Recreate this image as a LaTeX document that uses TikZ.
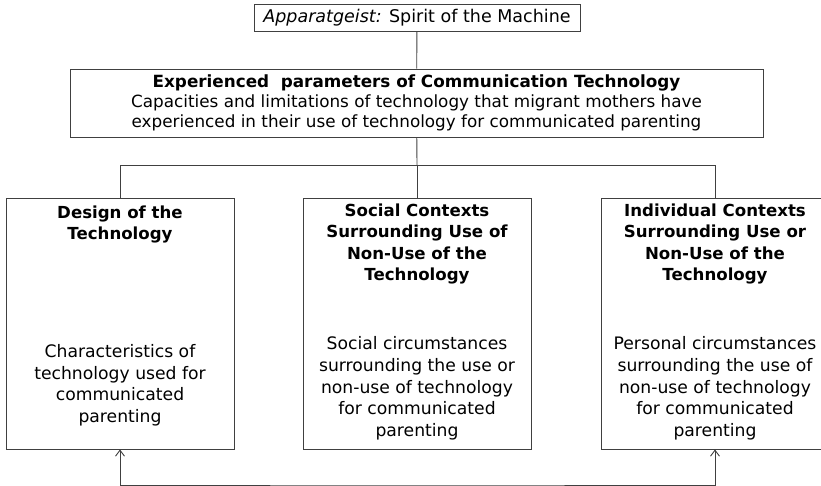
\documentclass[tikz,border=0pt]{standalone}
\usepackage{fontspec}
\setmainfont{DejaVu Sans}
\usetikzlibrary{positioning,arrows.meta}

\begin{document}
\begin{tikzpicture}[
    x=1pt, y=-1pt,
    font=\fontsize{16.8}{20}\selectfont,
    box/.style={draw=black!75, line width=0.9pt, inner sep=0pt},
    part/.style={box, minimum width=228pt, minimum height=251pt},
    head/.style={align=center, font=\fontsize{16.6}{21.5}\selectfont\bfseries, anchor=north, inner sep=0pt},
    desc/.style={align=center, font=\fontsize{17.2}{21.8}\selectfont, anchor=south, inner sep=0pt},
    link/.style={draw=black!75, line width=0.9pt},
    >={Straight Barb[length=6pt, width=9pt]}
]
\useasboundingbox (0,0) rectangle (821,486);

% Spirit of the machine on top
\node[box, minimum width=326pt, minimum height=27pt, font=\fontsize{17.5}{18}\selectfont] (spirit) at (417,17.5)
    {\textit{Apparatgeist:} Spirit of the Machine};

% Experienced parameters
\node[box, minimum width=693pt, minimum height=68pt, align=center] (params) at (416.5,103)
    {\textbf{Experienced\ \ parameters of Communication Technology}\\
     Capacities and limitations of technology that migrant mothers have\\
     experienced in their use of technology for communicated parenting};

% The three contexts
\node[part] (design) at (120,323.5) {};
\node[part] (social) at (417,323.5) {};
\node[part] (indiv) at (715,323.5) {};

\node[head, below=8pt of design.north] (designhead) {Design of the\\Technology};
\node[head, below=6pt of social.north] (socialhead) {Social Contexts\\Surrounding Use of\\Non-Use of the\\Technology};
\node[head, below=6pt of indiv.north] (indivhead) {Individual Contexts\\Surrounding Use or\\Non-Use of the\\Technology};

\node[desc, above=23pt of design.south] (designdesc) {Characteristics of\\technology used for\\communicated\\parenting};
\node[desc, above=9pt of social.south] (socialdesc) {Social circumstances\\surrounding the use or\\non-use of technology\\for communicated\\parenting};
\node[desc, above=9pt of indiv.south] (indivdesc) {Personal circumstances\\surrounding the use of\\non-use of technology\\for communicated\\parenting};

% Connectors
\coordinate (bus) at (417,165);
\coordinate (loop) at (417,485);
\draw[link] (spirit) -- (params);
\draw[link] (params) -- (bus);
\draw[link] (bus) -| (design.north);
\draw[link] (bus) -| (indiv.north);
\draw[link] (bus) -- (social);
\draw[link, <->] (design.south) |- (loop) -| (indiv.south);

\end{tikzpicture}
\end{document}
